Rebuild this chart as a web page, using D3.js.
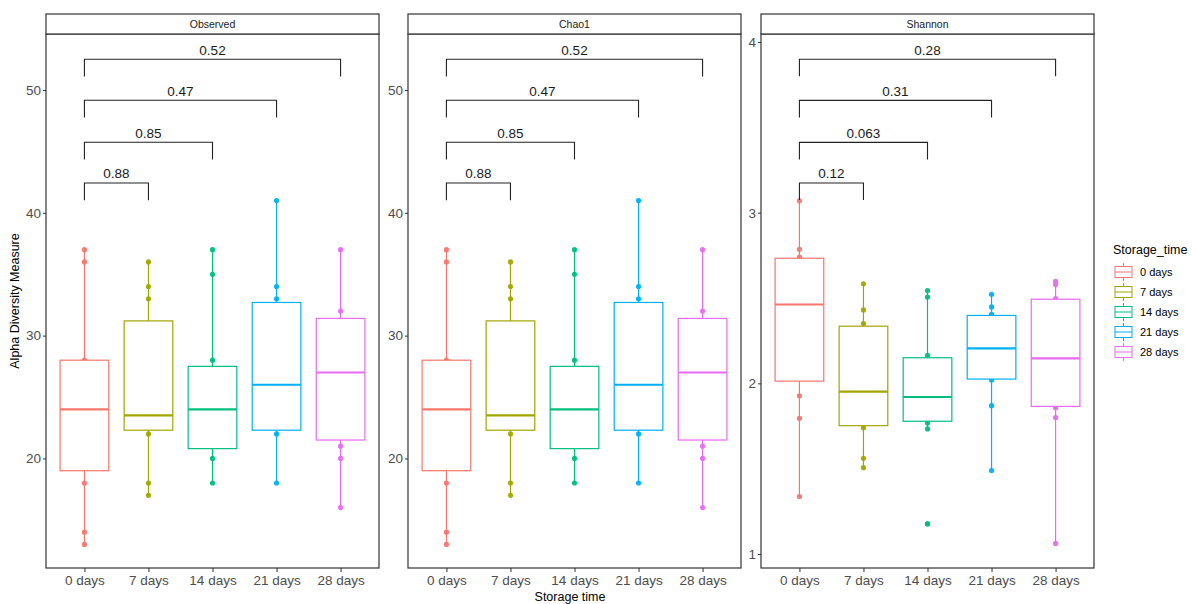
<!DOCTYPE html>
<html>
<head>
<meta charset="utf-8">
<script src="https://cdn.jsdelivr.net/npm/d3@7"></script>
<style>
  body { margin: 0; background: #fff; }
  svg { font-family: "Liberation Sans", Arial, sans-serif; }
</style>
</head>
<body>
<svg id="chart" width="1192" height="604"></svg>
<script>
// Storage time groups
const categories = ["0 days", "7 days", "14 days", "21 days", "28 days"];
const colors = ["#F8766D", "#A3A500", "#00BF7D", "#00B0F6", "#E76BF3"];
const measures = ["Observed", "Chao1", "Shannon"];

// Box statistics per group: [lowerWhisker, q1, median, q3, upperWhisker]
const observedBoxes = [
  [13, 19.0, 24.0, 28.0, 37],
  [17, 22.3, 23.5, 31.2, 36],
  [18, 20.8, 24.0, 27.5, 37],
  [18, 22.3, 26.0, 32.7, 41],
  [16, 21.5, 27.0, 31.4, 37]
];
const chao1Boxes = [
  [13, 19.0, 24.0, 28.0, 37],
  [17, 22.3, 23.5, 31.2, 36],
  [18, 20.8, 24.0, 27.5, 37],
  [18, 22.3, 26.0, 32.7, 41],
  [16, 21.5, 27.0, 31.4, 37]
];
const shannonBoxes = [
  [1.337, 2.013, 2.462, 2.733, 3.07],
  [1.506, 1.752, 1.951, 2.335, 2.583],
  [1.733, 1.778, 1.920, 2.150, 2.544],
  [1.489, 2.025, 2.205, 2.398, 2.522],
  [1.062, 1.865, 2.146, 2.493, 2.598]
];

// Sample values per group (those inside a box are covered by its white fill)
const observedPoints = [
  [37, 36, 28, 18, 14, 13],
  [36, 34, 33, 22, 18, 17],
  [37, 35, 28, 20, 18],
  [41, 34, 33, 22, 18],
  [37, 32, 21, 20, 16]
];
const chao1Points = [
  [37, 36, 28, 18, 14, 13],
  [36, 34, 33, 22, 18, 17],
  [37, 35, 28, 20, 18],
  [41, 34, 33, 22, 18],
  [37, 32, 21, 20, 16]
];
const shannonPoints = [
  [3.07, 2.785, 2.74, 1.927, 1.795, 1.337],
  [2.583, 2.43, 2.35, 1.74, 1.561, 1.506],
  [2.544, 2.506, 2.164, 1.768, 1.733, 1.177],
  [2.522, 2.448, 2.404, 2.02, 1.869, 1.489],
  [2.598, 2.579, 2.497, 1.857, 1.80, 1.062]
];

// Pairwise comparisons against "0 days": p-values
const compareTo = ["7 days", "14 days", "21 days", "28 days"];
const observedP = ["0.88", "0.85", "0.47", "0.52"];
const chao1P = ["0.88", "0.85", "0.47", "0.52"];
const shannonP = ["0.12", "0.063", "0.31", "0.28"];

// Bracket heights (data units) per panel
const observedBracketY = [42.43, 45.74, 49.16, 52.5];
const chao1BracketY = [42.43, 45.74, 49.16, 52.5];
const shannonBracketY = [3.174, 3.412, 3.658, 3.899];

const observedTicks = [20, 30, 40, 50];
const chao1Ticks = [20, 30, 40, 50];
const shannonTicks = [1, 2, 3, 4];

const panels = [
  { name: measures[0], boxes: observedBoxes, points: observedPoints, p: observedP, by: observedBracketY, ticks: observedTicks, domain: [11.08, 54.56], tip: 1.4 },
  { name: measures[1], boxes: chao1Boxes, points: chao1Points, p: chao1P, by: chao1BracketY, ticks: chao1Ticks, domain: [11.08, 54.56], tip: 1.4 },
  { name: measures[2], boxes: shannonBoxes, points: shannonPoints, p: shannonP, by: shannonBracketY, ticks: shannonTicks, domain: [0.918, 4.047], tip: 0.1 }
];

const svg = d3.select("#chart");
const panelLefts = [46, 408, 761];
const panelW = 333;
const stripTop = 14, stripH = 20;
const plotTop = stripTop + stripH, plotBottom = 568;
const border = "#333333";

// Discrete x scale with ggplot-style 0.6 expansion on each side
const xUnit = panelW / (categories.length - 1 + 1.2);
const boxW = 0.76 * xUnit;

panels.forEach((pn, pi) => {
  const left = panelLefts[pi];
  const g = svg.append("g").attr("transform", `translate(${left},0)`);
  const x = d3.scalePoint().domain(categories).range([0.6 * xUnit, panelW - 0.6 * xUnit]);
  const y = d3.scaleLinear().domain(pn.domain).range([plotBottom, plotTop]);

  // panel background
  g.append("rect").attr("x", 0).attr("y", plotTop).attr("width", panelW).attr("height", plotBottom - plotTop)
    .attr("fill", "#fff");

  // points (drawn under the boxes)
  categories.forEach((c, i) => {
    g.selectAll(null).data(pn.points[i]).enter().append("circle")
      .attr("cx", x(c)).attr("cy", d => y(d)).attr("r", 2.6)
      .attr("fill", colors[i]).attr("opacity", 0.95);
  });

  // boxplots
  categories.forEach((c, i) => {
    const [lo, q1, med, q3, hi] = pn.boxes[i];
    const cx = x(c);
    const bg = g.append("g");
    bg.append("line").attr("x1", cx).attr("x2", cx).attr("y1", y(q3)).attr("y2", y(hi))
      .attr("stroke", colors[i]).attr("stroke-width", 1.2);
    bg.append("line").attr("x1", cx).attr("x2", cx).attr("y1", y(q1)).attr("y2", y(lo))
      .attr("stroke", colors[i]).attr("stroke-width", 1.2);
    bg.append("rect").attr("x", cx - boxW / 2).attr("width", boxW)
      .attr("y", y(q3)).attr("height", y(q1) - y(q3))
      .attr("fill", "#fff").attr("stroke", colors[i]).attr("stroke-width", 1.2);
    bg.append("line").attr("x1", cx - boxW / 2).attr("x2", cx + boxW / 2)
      .attr("y1", y(med)).attr("y2", y(med))
      .attr("stroke", colors[i]).attr("stroke-width", 2.2);
  });

  // outliers beyond whiskers stay visible above the boxes
  categories.forEach((c, i) => {
    const [lo, , , , hi] = pn.boxes[i];
    g.selectAll(null).data(pn.points[i].filter(v => v < lo || v > hi)).enter().append("circle")
      .attr("cx", x(c)).attr("cy", d => y(d)).attr("r", 2.6).attr("fill", colors[i]);
  });

  // comparison brackets
  compareTo.forEach((c, k) => {
    const x0 = x(categories[0]), x1 = x(c);
    const yb = y(pn.by[k]), yt = y(pn.by[k] - pn.tip);
    g.append("path")
      .attr("d", `M${x0},${yt}V${yb}H${x1}V${yt}`)
      .attr("fill", "none").attr("stroke", "#222").attr("stroke-width", 1.1);
    g.append("text").attr("x", (x0 + x1) / 2).attr("y", yb - 4.5)
      .attr("text-anchor", "middle").attr("font-size", 13.5).attr("fill", "#1a1a1a")
      .text(pn.p[k]);
  });

  // panel border
  g.append("rect").attr("x", 0).attr("y", plotTop).attr("width", panelW).attr("height", plotBottom - plotTop)
    .attr("fill", "none").attr("stroke", border).attr("stroke-width", 1.2);

  // strip
  g.append("rect").attr("x", 0).attr("y", stripTop).attr("width", panelW).attr("height", stripH)
    .attr("fill", "#fff").attr("stroke", border).attr("stroke-width", 1.2);
  g.append("text").attr("x", panelW / 2).attr("y", stripTop + stripH / 2 + 3.6)
    .attr("text-anchor", "middle").attr("font-size", 10.5).attr("fill", "#1a1a1a").text(pn.name);

  // y axis
  const ya = g.append("g").call(d3.axisLeft(y).tickValues(pn.ticks).tickSize(3).tickPadding(2).tickFormat(d3.format("d")));
  ya.select(".domain").remove();
  ya.selectAll(".tick line").attr("stroke", border);
  ya.selectAll(".tick text").attr("font-size", 13.5).attr("fill", "#4d4d4d").attr("font-family", "Liberation Sans, Arial, sans-serif");

  // x axis
  const xa = g.append("g").attr("transform", `translate(0,${plotBottom})`)
    .call(d3.axisBottom(x).tickSize(4).tickPadding(3));
  xa.select(".domain").remove();
  xa.selectAll(".tick line").attr("stroke", border);
  xa.selectAll(".tick text").attr("font-size", 13.5).attr("fill", "#4d4d4d").attr("font-family", "Liberation Sans, Arial, sans-serif");
});

// axis titles
svg.append("text").attr("x", (panelLefts[0] + panelLefts[2] + panelW) / 2).attr("y", 601)
  .attr("text-anchor", "middle").attr("font-size", 12.5).attr("fill", "#000").text("Storage time");
svg.append("text").attr("transform", `translate(19,${(plotTop + plotBottom) / 2}) rotate(-90)`)
  .attr("text-anchor", "middle").attr("font-size", 12.5).attr("fill", "#000").text("Alpha Diversity Measure");

// legend
const lg = svg.append("g").attr("transform", "translate(1113,0)");
lg.append("text").attr("x", 0).attr("y", 254).attr("font-size", 12.5).attr("fill", "#000").text("Storage_time");
const legY = d3.scalePoint().domain(categories).range([272, 352]);
categories.forEach((c, i) => {
  const cy = legY(c);
  const kx = 2, kw = 17;
  lg.append("line").attr("x1", kx + kw / 2).attr("x2", kx + kw / 2).attr("y1", cy - 9).attr("y2", cy + 9)
    .attr("stroke", colors[i]).attr("stroke-width", 1);
  lg.append("rect").attr("x", kx).attr("y", cy - 5.5).attr("width", kw).attr("height", 11)
    .attr("fill", "#fff").attr("stroke", colors[i]).attr("stroke-width", 1);
  lg.append("line").attr("x1", kx).attr("x2", kx + kw).attr("y1", cy).attr("y2", cy)
    .attr("stroke", colors[i]).attr("stroke-width", 1);
  lg.append("text").attr("x", 27).attr("y", cy + 4).attr("font-size", 11).attr("fill", "#000").text(c);
});
</script>
</body>
</html>
